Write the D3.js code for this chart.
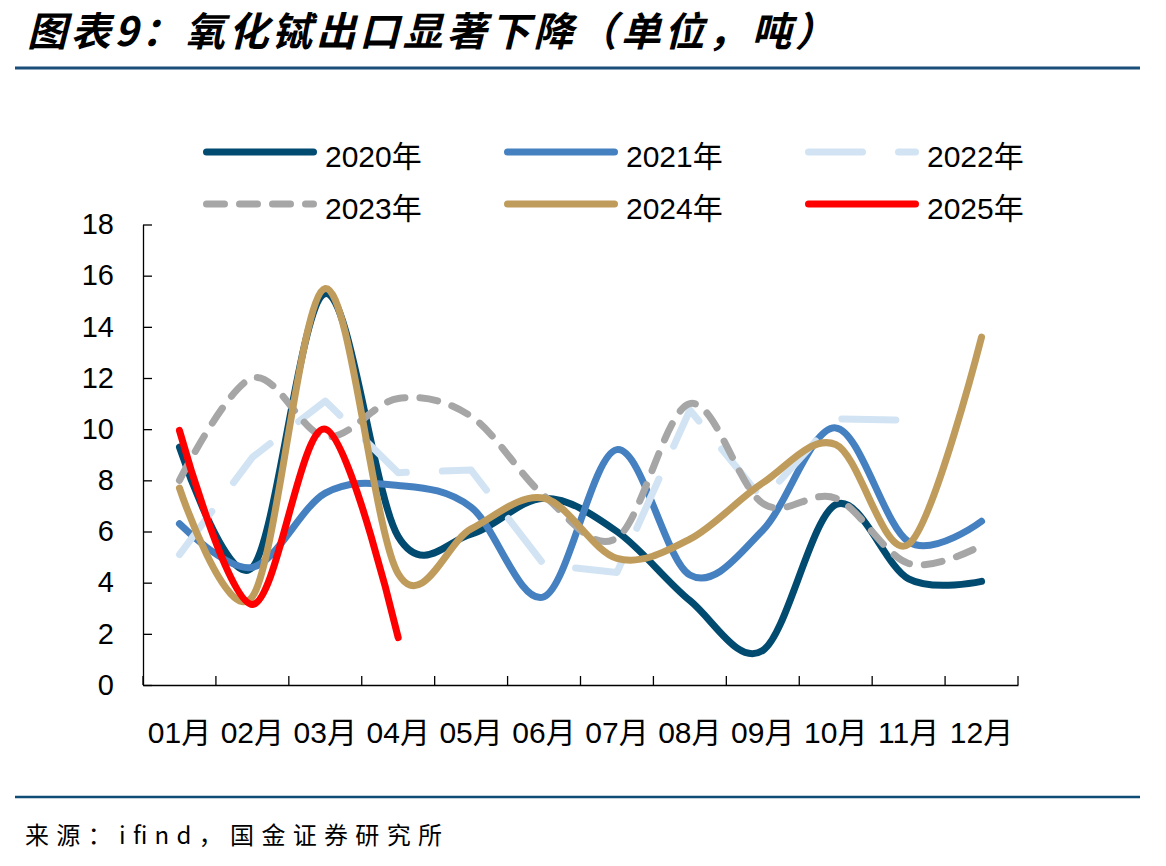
<!DOCTYPE html>
<html>
<head>
<meta charset="utf-8">
<script src="https://cdn.jsdelivr.net/npm/d3@7"></script>
<style>
  html, body { margin: 0; padding: 0; background: #ffffff; }
  svg { display: block; }
</style>
</head>
<body>
<svg id="chart" width="1166" height="866"></svg>
<script>
// ---------- data ----------
const months = ["01月","02月","03月","04月","05月","06月","07月","08月","09月","10月","11月","12月"];
const yTicks = [0, 2, 4, 6, 8, 10, 12, 14, 16, 18];
const seriesNames = ["2020年","2021年","2022年","2023年","2024年","2025年"];
const v2020 = [9.3, 4.6, 15.3, 5.8, 5.9, 7.3, 6.0, 3.3, 1.35, 7.05, 4.15, 4.05];
const v2021 = [6.3, 4.6, 7.5, 7.8, 6.95, 3.45, 9.2, 4.3, 6.05, 10.05, 5.6, 6.4];
const v2022 = [5.1, 8.9, 11.1, 8.3, 8.4, 4.7, 4.4, 10.75, 7.25, 10.4, 10.35, null];
const v2023 = [8.0, 12.0, 9.7, 11.2, 10.5, 7.4, 5.75, 11.0, 7.1, 7.3, 4.75, 5.45];
const v2024 = [7.7, 3.45, 15.5, 4.35, 6.1, 7.3, 4.95, 5.7, 7.9, 9.4, 5.5, 13.6];
const v2025 = [9.95, 3.15, 10.0, 1.85, null, null, null, null, null, null, null, null];

(function () {
// ---------- setup ----------
const svg = d3.select("#chart");
const FONT = "'Liberation Sans', Arial, 'Noto Sans CJK SC', sans-serif";
const pLeft = 143, pRight = 1018, pTop = 224.5, pBottom = 685;

// title
svg.append("text")
  .attr("x", 27).attr("y", 46)
  .attr("font-family", "'Noto Sans CJK SC', sans-serif")
  .attr("font-weight", 700)
  .attr("font-style", "italic")
  .attr("font-size", 40)
  .attr("textLength", 808)
  .attr("lengthAdjust", "spacing")
  .attr("fill", "#000")
  .text("图表9：氧化铽出口显著下降（单位，吨）");

svg.append("line").attr("x1", 15).attr("x2", 1140).attr("y1", 68).attr("y2", 68)
  .attr("stroke", "#1b4f7a").attr("stroke-width", 3);
svg.append("line").attr("x1", 15).attr("x2", 1140).attr("y1", 797).attr("y2", 797)
  .attr("stroke", "#0f4c75").attr("stroke-width", 2.5);

svg.append("text")
  .attr("x", 25).attr("y", 844)
  .attr("font-family", "'Noto Sans CJK SC', sans-serif")
  .attr("font-size", 24)
  .attr("textLength", 417)
  .attr("lengthAdjust", "spacing")
  .attr("fill", "#000")
  .text("来源：ifind，国金证券研究所");

// scales
const x = d3.scaleBand().domain(months).range([pLeft, pRight]).paddingInner(0).paddingOuter(0);
const xc = m => x(m) + x.bandwidth() / 2;
const y = d3.scaleLinear().domain([0, 18]).range([pBottom, pTop]);

// y axis
const yAxis = svg.append("g").attr("transform", `translate(${pLeft},0)`)
  .call(d3.axisLeft(y).tickValues(yTicks).tickSize(-9).tickSizeOuter(0).tickPadding(29));
yAxis.selectAll("path, line").attr("stroke", "#000").attr("stroke-width", 1.3);
yAxis.selectAll("text").attr("font-family", FONT).attr("font-size", 29).attr("fill", "#000");

// x axis
const xAxis = svg.append("g").attr("transform", `translate(0,${pBottom})`)
  .call(d3.axisBottom(x).tickSize(0).tickSizeOuter(0).tickPadding(37));
xAxis.select("path").attr("stroke", "#000").attr("stroke-width", 1.3);
xAxis.selectAll("text").attr("font-family", FONT).attr("font-size", 30).attr("fill", "#000");
// category boundary ticks (inside)
const bounds = months.map(m => x(m)).concat([x(months[months.length - 1]) + x.bandwidth()]);
svg.append("g").selectAll("line").data(bounds).join("line")
  .attr("x1", d => d).attr("x2", d => d)
  .attr("y1", pBottom).attr("y2", pBottom - 9)
  .attr("stroke", "#000").attr("stroke-width", 1.3);

// series
const smooth = d3.curveCardinal.tension(0);
const series = [
  { name: seriesNames[0], values: v2020, color: "#014a70", dash: null, curve: smooth },
  { name: seriesNames[1], values: v2021, color: "#4580c0", dash: null, curve: smooth },
  { name: seriesNames[2], values: v2022, color: "#d2e4f4", dash: "54,36", curve: d3.curveLinear },
  { name: seriesNames[3], values: v2023, color: "#a6a6a6", dash: "18,15", curve: smooth },
  { name: seriesNames[4], values: v2024, color: "#c09c5c", dash: null, curve: smooth },
  { name: seriesNames[5], values: v2025, color: "#ff0000", dash: null, curve: smooth }
];

const plot = svg.append("g");
series.forEach(s => {
  const pts = s.values.map((v, i) => ({ m: months[i], v })).filter(d => d.v != null);
  const line = d3.line().x(d => xc(d.m)).y(d => y(d.v)).curve(s.curve);
  plot.append("path")
    .attr("d", line(pts))
    .attr("fill", "none")
    .attr("stroke", s.color)
    .attr("stroke-width", 7)
    .attr("stroke-linecap", "round")
    .attr("stroke-linejoin", "round")
    .attr("stroke-dasharray", s.dash);
});

// legend
const legX = [203, 504, 805];
const legY = [152, 204];
const leg = svg.append("g");
series.forEach((s, i) => {
  const lx = legX[i % 3], ly = legY[Math.floor(i / 3)];
  leg.append("line")
    .attr("x1", lx + 3.5).attr("x2", lx + 110.5).attr("y1", ly).attr("y2", ly)
    .attr("stroke", s.color).attr("stroke-width", 7)
    .attr("stroke-linecap", "round")
    .attr("stroke-dasharray", s.dash);
  leg.append("text")
    .attr("x", lx + 122).attr("y", ly + 15)
    .attr("font-family", FONT).attr("font-size", 30).attr("fill", "#000")
    .text(s.name);
});
})();
</script>
</body>
</html>
